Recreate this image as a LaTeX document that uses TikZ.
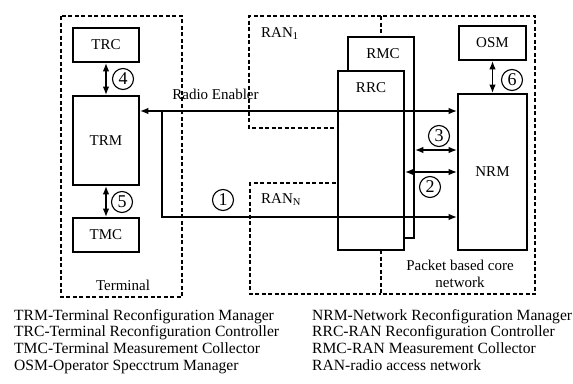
\documentclass[tikz,border=0pt]{standalone}
\usepackage{fontspec}
\setmainfont{Liberation Serif}
\usetikzlibrary{arrows.meta}
\begin{document}
\begin{tikzpicture}[x=1pt,y=-1pt,
  every node/.style={font=\fontsize{15pt}{17pt}\selectfont},
  box/.style={draw, line width=1.6pt, fill=white, inner sep=0pt},
  region/.style={draw, line width=1.1pt, dash pattern=on 4pt off 2.5pt},
  conn/.style={line width=1.6pt},
  tip/.style={-{Latex[length=8.5pt,width=6.5pt]}},
  tips/.style={{Latex[length=8.5pt,width=6.5pt]}-{Latex[length=8.5pt,width=6.5pt]}},
  num/.style={draw, circle, line width=1.1pt, minimum size=21pt, inner sep=0pt,
              font=\fontsize{18pt}{18pt}\selectfont},
  txt/.style={anchor=base, inner sep=0pt},
  legend/.style={anchor=base west, inner sep=0pt, font=\fontsize{15.6pt}{17pt}\selectfont}]
\useasboundingbox (0,0) rectangle (573,383);

% dashed regions
\draw[region] (61,16) rectangle (182,297);
\draw[region] (381,16) -- (249,16) -- (249,128) -- (381,128);
\draw[region] (381,183) -- (250,183) -- (250,294) -- (381,294);
\draw[region] (381,16) rectangle (535,294);

% boxes
\node[box, minimum width=66pt, minimum height=34pt] (TRC) at (106,45) {TRC};
\node[box, minimum width=66pt, minimum height=89pt] (TRM) at (106,140.5) {TRM};
\node[box, minimum width=66pt, minimum height=34pt] (TMC) at (106,235) {TMC};
\node[box, minimum width=67pt, minimum height=34pt] (OSM) at (492.5,43) {OSM};
\node[box, minimum width=69pt, minimum height=156pt] (NRM) at (492.5,172) {NRM};
\node[box, minimum width=66pt, minimum height=201pt,
      label={[anchor=center,yshift=-17pt,xshift=2pt]north:RMC}] (RMC) at (381,137.5) {};
\node[box, minimum width=66pt, minimum height=179pt,
      label={[anchor=center,yshift=-17pt]north:RRC}] (RRC) at (371,160.5) {};

% connectors
\coordinate (re) at (300,111);
\coordinate (j1) at (162,111);
\coordinate (y1) at (300,217);
\coordinate (y2) at (300,172);
\coordinate (y3) at (300,150);
\draw[conn,tips] (TRM.east |- re) -- (NRM.west |- re);
\draw[conn,tip] (j1) |- (NRM.west |- y1);
\draw[conn,tips] (RRC.east |- y2) -- (NRM.west |- y2);
\draw[conn,tips] (RMC.east |- y3) -- (NRM.west |- y3);
\draw[conn,tips] (TRC) -- (TRM);
\draw[conn,tips] (TRM) -- (TMC);
\draw[conn,tips] (OSM) -- (NRM);

% circled numbers
\node[num] (n1) at (223,200) {1};
\node[num] (n2) at (430,187) {2};
\node[num] (n3) at (439,136) {3};
\node[num] (n4) at (123,79) {4};
\node[num] (n5) at (122,202) {5};
\node[num] (n6) at (512,80) {6};

% texts
\node[txt] (term) at (123,290) {Terminal};
\node[txt] (radio) at (215.5,99) {Radio Enabler};
\node[anchor=base west, inner sep=0pt] (ran1) at (261,37) {RAN\textsubscript{1}};
\node[anchor=base west, inner sep=0pt] (rann) at (261,203) {RAN\textsubscript{N}};
\node[txt] (core1) at (460,270) {Packet based core};
\node[txt] (core2) at (460,287) {network};

% legend
\node[legend] (l1) at (14,320) {TRM-Terminal Reconfiguration Manager};
\node[legend] (l2) at (14,336.7) {TRC-Terminal Reconfiguration Controller};
\node[legend] (l3) at (14,353.4) {TMC-Terminal Measurement Collector};
\node[legend] (l4) at (14,370) {OSM-Operator Specctrum Manager};
\node[legend] (r1) at (312,320) {NRM-Network Reconfiguration Manager};
\node[legend] (r2) at (312,336.7) {RRC-RAN Reconfiguration Controller};
\node[legend] (r3) at (312,353.4) {RMC-RAN Measurement Collector};
\node[legend] (r4) at (312,370) {RAN-radio access network};
\end{tikzpicture}
\end{document}
